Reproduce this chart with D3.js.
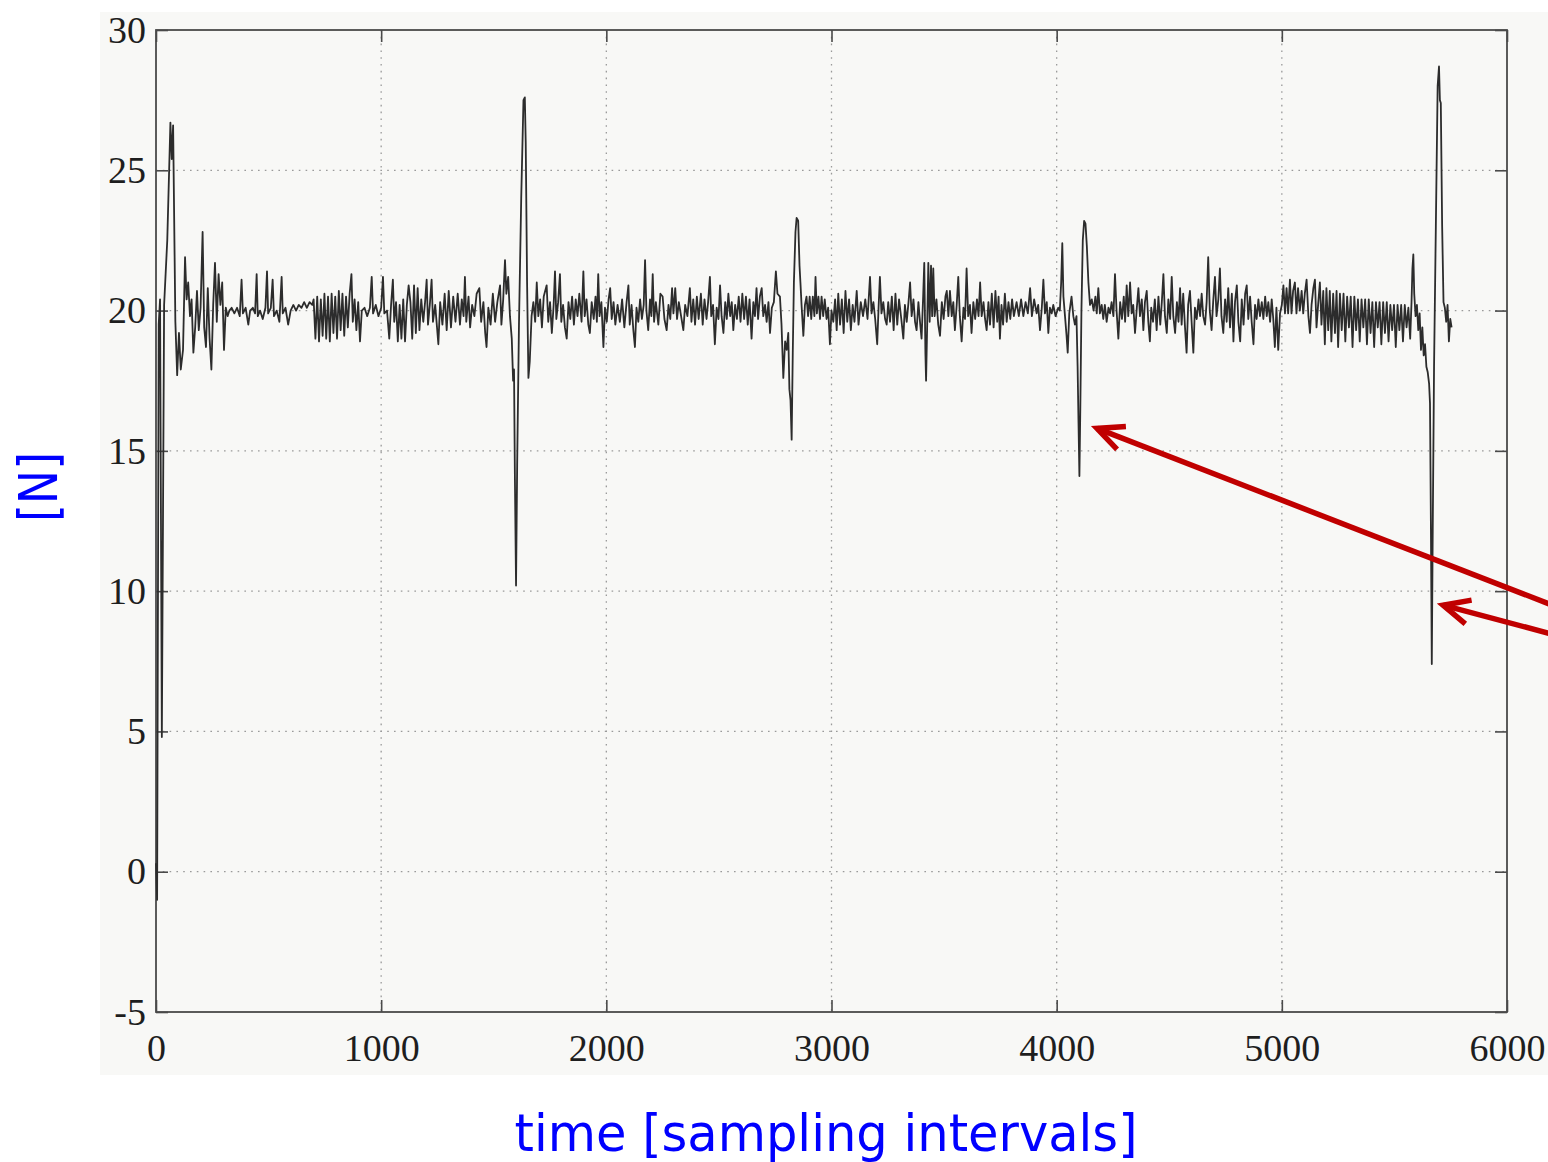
<!DOCTYPE html>
<html>
<head>
<meta charset="utf-8">
<script src="https://cdn.jsdelivr.net/npm/d3@7/dist/d3.min.js"></script>
<style>
  html, body { margin: 0; padding: 0; background: #ffffff; }
  svg { display: block; }
</style>
</head>
<body>
<div id="chart"></div>
<script>
/*****************************************************************************
 *  Force signal over time (sampling intervals)
 */

var X_TICKS = [0, 1000, 2000, 3000, 4000, 5000, 6000];
var Y_TICKS = [-5, 0, 5, 10, 15, 20, 25, 30];

// [sample, force N]
var startup = [[0,0.3],[5,-1.0],[12,19.5],[18,20.4],[26,4.8],[36,20.2],[50,22.5],[64,26.7],[70,25.4],[76,26.6],[86,19.6],[94,17.7],[102,19.2],[110,17.9],[120,18.6],[129,21.9],[136,20.4],[143,21.0],[151,19.8],[158,20.4],[166,18.5],[174,19.4],[182,20.7],[190,19.3],[198,20.1],[207,22.8],[214,19.4],[222,18.7],[230,20.8],[238,19.0],[246,17.9],[254,20.2],[262,21.7],[270,19.6],[278,21.3],[286,20.2],[294,21.0],[302,18.6],[310,20.1],[318,19.8],[326,20.0]];

var firstRun = [[336,20.1],[348,19.9],[360,20.1],[372,19.8],[380,21.1],[386,19.9],[398,20.1],[410,19.5],[418,20.0],[430,20.1],[440,19.9],[447,21.3],[452,19.8],[462,20.0],[474,19.7],[486,20.1],[493,21.4],[498,19.9],[510,20.1],[518,21.1],[524,19.8],[536,20.0],[548,19.6],[558,21.2],[563,19.9],[575,20.1],[587,19.5],[598,20.0],[610,20.2],[622,20.0],[634,20.2],[646,20.1],[658,20.3],[670,20.1],[682,20.3],[694,20.2],
  [700,20.4],[708,19.0],[716,20.5],[724,18.9],[732,20.4],[740,19.1],[748,20.6],[756,19.0],[764,20.5],[772,18.9],[780,20.6],[788,19.2],[796,20.5],[804,19.0],[812,20.7],[820,19.3],[828,20.6],[836,19.1],[844,20.5],[852,19.4],[860,20.6],[868,21.3],[874,19.6],[882,20.4],[890,19.3],[898,20.3],[906,18.9],[914,20.0],
  [926,20.1],[938,19.8],[950,20.1],[958,21.2],[964,19.9],[976,20.2],[988,19.8],[1000,20.1],[1008,21.2],[1014,19.9],[1026,20.0],[1036,19.0],[1044,20.2],[1052,21.1],[1058,19.6],
  [1066,20.3],[1074,18.9],[1082,20.2],[1090,19.0],[1098,20.4],[1106,18.9],[1114,20.2],[1122,20.9],[1130,20.3],[1138,19.0],[1146,20.9],[1154,19.2],[1162,20.8],[1170,19.3],[1178,20.4],
  [1187,19.6],[1195,20.3],[1202,21.1],[1208,19.5],[1216,20.2],[1224,21.1],[1230,19.6],[1240,20.2],[1248,19.4],[1254,18.8],[1262,20.3],[1272,19.5],[1282,20.6],[1291,19.3],[1300,20.7],[1310,19.4],[1320,20.5],[1330,19.6],[1340,20.6],[1350,19.5],[1358,20.4],[1366,19.8],[1372,21.2],[1378,19.6],[1388,20.5],[1395,19.4],[1404,20.2],[1414,19.8],[1424,20.6],[1436,20.8],[1444,19.6],[1454,20.3],[1462,19.2],[1468,18.7],[1476,20.1],[1486,19.5],[1496,20.6],[1506,19.6],[1516,20.3],[1528,20.9],[1534,19.5],[1542,20.4],[1550,21.8],[1556,20.6],[1564,21.2],[1572,19.8],[1580,19.0],[1586,17.5],[1590,17.9],[1594,14.0],[1599,10.2],[1604,14.5],[1612,19.5],[1622,24.0],[1632,27.5],[1638,27.6],[1642,26.0],[1648,21.0],[1654,17.6],[1660,18.2],[1668,19.8]];

var secondRun = [[1676,20.3],[1684,19.6],[1691,21.0],[1698,19.8],[1706,20.4],[1714,19.4],[1722,20.5],[1735,20.9],[1742,19.6],[1750,20.3],[1758,19.2],[1766,20.2],[1772,21.4],[1778,19.7],[1786,20.3],[1794,21.3],[1800,19.6],[1808,20.2],[1816,19.4],[1824,19.0],[1832,20.3],[1840,19.7],[1848,20.5],[1856,19.5],[1864,20.4],[1872,19.8],[1880,20.6],[1890,19.6],[1898,21.4],[1904,19.8],[1912,20.4],[1920,19.5],[1927,19.2],[1935,20.3],[1944,19.7],[1952,20.5],[1958,19.6],[1964,21.3],[1970,19.8],[1978,20.3],[1987,18.7],[1994,20.1],[2002,19.6],[2010,20.4],[2017,20.8],[2024,19.7],[2032,20.3],[2040,19.5],[2050,20.2],[2060,19.6],[2070,20.4],[2080,19.4],[2090,20.3],[2098,20.9],[2104,19.5],[2112,20.2],[2120,19.3],[2127,18.7],[2134,20.1],[2142,19.6],[2150,20.4],[2158,19.7],[2166,20.2],[2172,21.8],[2178,20.0],
  [2186,19.3],[2194,20.4],[2200,19.8],[2206,21.3],[2212,19.6],[2220,20.3],[2231,19.5],[2240,20.6],[2250,20.5],[2258,19.7],[2268,19.3],[2276,20.2],[2284,19.7],[2292,20.8],[2298,19.9],[2306,20.8],[2314,19.7],[2322,20.3],[2332,19.8],[2342,19.3],[2350,20.2],[2360,19.8],[2371,20.8],[2378,19.6],[2386,20.4],[2394,19.5],[2402,20.5],[2410,19.7],[2420,20.6],[2428,19.5],[2436,20.4],[2445,19.7],[2452,20.3],[2460,21.2],[2466,19.8],[2474,20.2],[2482,18.8],[2490,20.1],[2498,19.7],[2505,20.9],[2512,19.8],[2520,19.2],[2528,20.3],[2535,19.7],[2542,20.6],[2550,19.8],[2557,20.3],[2564,19.3],[2572,20.2],[2580,19.7],[2588,20.5],[2596,19.6],[2604,20.6],[2612,19.7],[2620,20.5],[2628,19.5],[2636,20.4],[2645,19.0],[2653,20.3],[2660,19.8],[2667,20.8],[2674,19.7],[2682,20.5],[2690,20.8],[2697,19.8],[2705,20.2],[2712,19.6],[2720,20.3],[2727,19.2],[2735,20.1],[2744,20.3],[2753,21.4],[2760,20.6],[2771,20.5],[2778,19.5],[2786,17.6],[2794,18.9],[2801,18.6],[2808,19.2],[2813,17.2],[2818,16.8],[2823,15.4],[2828,18.5],[2833,21.0],[2840,22.8],[2845,23.3],[2852,23.2],[2858,21.6],[2862,21.0],[2867,20.2],[2875,19.1],[2882,20.2]];

var thirdRun = [[2889,20.5],[2896,19.8],[2903,20.5],[2910,19.7],[2917,20.5],[2924,19.8],[2929,21.2],[2935,19.9],[2942,20.5],[2949,19.7],[2956,20.5],[2963,19.8],[2970,20.4],[2978,19.7],[2985,20.1],[2993,18.8],[3000,20.0],[3008,19.6],[3016,20.4],[3023,19.3],[3030,20.6],[3038,19.5],[3046,20.4],[3054,19.2],[3062,20.7],[3070,19.6],[3078,20.4],[3086,19.3],[3094,20.2],[3102,19.6],[3112,20.7],[3120,19.5],[3130,20.3],[3140,19.8],[3150,20.4],[3160,19.7],[3171,21.2],[3178,19.9],[3186,20.3],[3194,19.7],[3203,18.8],[3209,20.1],[3215,21.2],[3222,19.9],[3230,20.3],[3238,19.7],[3245,19.5],[3252,20.3],[3260,19.6],[3268,20.5],[3276,19.3],[3284,20.6],[3292,19.5],[3300,20.4],
  [3310,19.7],[3319,19.0],[3326,20.2],[3334,19.6],[3342,20.3],[3349,21.0],[3356,19.8],[3364,20.4],[3371,19.6],[3378,19.3],[3386,20.3],[3393,19.6],[3400,19.0],[3407,20.5],[3412,21.7],[3417,18.5],[3420,17.5],[3425,19.5],[3430,21.7],[3436,19.6],[3442,21.6],[3447,19.8],[3452,21.5],[3458,19.8],[3466,20.4],[3474,19.5],[3482,19.1],[3490,20.3],[3498,19.7],[3506,20.5],[3512,20.7],[3519,19.8],[3526,20.7],[3534,19.8],[3541,20.3],[3548,19.3],[3556,20.2],[3563,21.2],[3570,19.8],[3578,18.9],[3586,20.1],[3593,19.7],[3600,21.5],[3607,19.8],[3615,20.2],[3622,19.2],[3630,20.3],[3638,19.7],[3646,20.4],[3653,19.8],[3660,21.0],[3667,19.8],[3675,20.3],[3682,19.7],[3689,19.3],[3697,20.3],[3704,19.5],[3712,20.6],[3720,19.4],[3728,20.7],[3736,19.6],[3742,20.5],[3748,19.0],[3755,20.2],[3762,19.5],[3770,20.6],[3778,19.6],[3786,20.3],[3794,19.7],[3802,20.4],[3810,19.8],[3822,20.3],[3832,19.8],[3842,20.4],[3852,19.8],[3862,20.3],[3872,19.9],[3882,20.8],[3890,19.8],[3900,20.4],[3911,19.9],[3918,20.2],[3926,19.3],[3934,20.1],[3941,21.1],[3948,19.9],[3956,20.3],[3963,19.2],[3970,20.1],[3978,19.9],[3985,20.2],[3995,19.8],[4007,20.1],[4014,20.0],
  [4020,21.0],[4025,22.4],[4030,20.5],[4037,19.8],[4044,19.1],[4049,18.5],[4056,19.9],[4066,20.5],[4074,19.8],[4081,19.5],[4088,19.8],[4093,18.0],[4097,16.0],[4101,14.1],[4105,16.5],[4110,20.0],[4116,22.5],[4122,23.2],[4128,23.1],[4134,22.3],[4141,21.0],[4148,20.2]];

var fourthRun = [[4156,20.4],[4164,20.0],[4172,20.5],[4178,19.9],[4185,20.8],[4192,19.9],[4200,20.2],[4207,19.7],[4214,20.2],[4222,19.6],[4230,20.1],[4237,19.9],[4244,20.3],[4252,19.8],[4259,21.3],[4266,20.0],[4274,19.0],[4282,20.3],[4290,19.7],[4298,20.5],[4304,19.6],[4311,20.9],[4318,19.8],[4326,21.0],[4333,19.9],[4340,20.2],[4348,19.2],[4356,20.1],[4363,20.8],[4370,19.8],[4378,20.4],[4385,19.3],[4392,20.3],[4400,20.7],[4407,19.6],[4414,18.9],[4420,20.1],
  [4428,19.6],[4436,20.4],[4444,19.3],[4452,20.5],[4460,19.5],[4467,20.3],[4474,21.3],[4481,19.8],[4489,19.2],[4496,20.4],[4504,19.7],[4511,21.2],[4518,19.8],[4526,19.2],[4534,20.3],[4541,19.6],[4548,20.8],[4555,19.5],[4562,20.6],[4570,19.4],[4577,18.5],[4584,20.2],[4592,20.7],[4600,19.5],[4607,18.5],[4614,20.1],[4622,19.7],[4630,20.4],[4637,19.8],[4644,20.6],[4651,19.8],[4659,19.5],[4666,20.3],[4673,21.9],[4680,20.0],[4688,19.3],[4695,20.3],[4703,21.2],[4710,19.8],[4718,20.4],[4725,21.5],[4732,19.8],[4740,19.2],[4748,20.4],[4755,19.6],[4762,20.8],[4770,19.4],[4778,20.6],[4785,18.9],[4792,20.3],[4800,20.9],[4807,19.6],[4815,18.9],[4822,20.4],[4830,19.5],[4837,20.6],[4844,20.9],[4851,19.7],[4859,20.5],[4866,19.6],[4874,18.8],[4881,20.2],[4888,19.7],[4896,20.4],[4903,19.8],[4911,20.3],[4918,19.7],[4926,20.5],[4933,19.8],[4940,20.3],[4948,19.6],[4955,20.4],[4962,19.7],[4969,18.7],[4976,20.1],[4984,18.6],[4992,19.9],[5000,20.2],[5007,20.9],[5014,19.9],[5021,20.8],[5028,19.9],[5036,21.1],[5043,19.9],[5050,20.7],[5058,21.0],[5065,19.9],[5072,20.8],[5080,20.0],[5088,20.7],[5095,19.9],[5102,20.6],[5110,21.1],[5118,19.8],[5125,19.2],[5132,20.2],[5140,20.8],[5147,21.1],[5154,19.4],[5162,20.3],[5169,21.0],[5176,19.5],[5184,20.7],[5191,18.8],[5198,20.8],[5206,19.3],[5213,20.7],[5220,18.9],[5228,20.6],[5236,19.2],[5243,20.7],[5250,18.7],[5258,20.6],[5266,19.3],[5274,20.6],[5282,18.9],[5290,20.5],[5298,19.4],[5306,20.5],[5314,18.7],[5322,20.5],[5330,19.3],[5338,20.4],[5346,18.9],[5354,20.4],[5362,19.4],[5370,20.4],[5378,18.8],[5386,20.4],[5394,19.2],[5402,20.3],[5410,18.7],[5418,20.3],[5426,19.4],[5434,20.3],[5442,18.8],[5450,20.3],[5458,19.2],[5466,20.3],[5474,18.9],[5482,20.2],[5490,19.3],[5498,20.2],[5506,18.7],[5514,20.2],[5522,19.3],[5530,20.2],
  [5538,18.9],[5546,20.2],[5554,19.4],[5562,20.1],[5570,19.0],[5576,20.3],[5580,21.5],[5584,22.0],[5588,20.6],[5594,19.8],[5600,20.2],[5606,19.3],[5612,19.9],[5618,18.6],[5624,19.4],[5630,18.4],[5636,18.8],[5642,18.0],[5648,17.8],[5654,17.4],[5658,16.7],[5662,12.4],[5666,7.4],[5670,12.0],[5676,18.0],[5684,23.0],[5692,28.0],[5698,28.7],[5702,27.5],[5706,27.4],[5712,23.0],[5718,20.3],[5724,20.1],[5730,19.6],[5736,20.2],[5742,18.9],[5748,19.7],[5754,19.4]];

// annotation arrows: tips on the trace, shared tail off to the right (sample, N)
var ARROW_TIPS = [[4179, 15.8], [5716, 9.5]];
var ARROW_TAIL = [7261, 6.2];

var X_LABEL = "time [sampling intervals]";
var Y_LABEL = "[N]";

/*****************************************************************************
 *  Layout
 */
var CANVAS_WIDTH = 1548;
var CANVAS_HEIGHT = 1162;
var PLOT_LEFT = 156;
var PLOT_RIGHT = 1507;
var PLOT_TOP = 30;
var PLOT_BOTTOM = 1012;
var TICK_LENGTH = 12;
var AXIS_COLOR = "#4a4a4a";
var TRACE_COLOR = "#2c2c2c";
var ARROW_COLOR = "#c00000";
var LABEL_BLUE = "#0000ff";
var TICK_FONT = "'Liberation Serif', 'Times New Roman', serif";
var LABEL_FONT = "'DejaVu Sans', Verdana, sans-serif";

var forceSamples = startup.concat(firstRun, secondRun, thirdRun, fourthRun);

var xScale = d3.scaleLinear().domain([0, 6000]).range([PLOT_LEFT, PLOT_RIGHT]);
var yScale = d3.scaleLinear().domain([-5, 30]).range([PLOT_BOTTOM, PLOT_TOP]);

// plain hyphen for negatives, like the scanned figure
var tickText = d => String(d);

var svg = d3.select("#chart").append("svg")
    .attr("width", CANVAS_WIDTH)
    .attr("height", CANVAS_HEIGHT);

svg.append("rect")
    .attr("width", CANVAS_WIDTH)
    .attr("height", CANVAS_HEIGHT)
    .attr("fill", "#ffffff");

// scanned page background
svg.append("rect")
    .attr("x", 100)
    .attr("y", 12)
    .attr("width", CANVAS_WIDTH - 100)
    .attr("height", 1063)
    .attr("fill", "#f8f8f6");

// Render dotted gridlines
svg.selectAll(".grid-x")
    .data(X_TICKS.slice(1, X_TICKS.length - 1))
    .enter()
    .append("line")
    .attr("class", "grid-x")
    .attr("x1", d => xScale(d)).attr("x2", d => xScale(d))
    .attr("y1", PLOT_TOP).attr("y2", PLOT_BOTTOM)
    .attr("stroke", "#9a9a9a")
    .attr("stroke-width", 1.3)
    .attr("stroke-dasharray", "1.6,5.2");

svg.selectAll(".grid-y")
    .data(Y_TICKS.slice(1, Y_TICKS.length - 1))
    .enter()
    .append("line")
    .attr("class", "grid-y")
    .attr("x1", PLOT_LEFT).attr("x2", PLOT_RIGHT)
    .attr("y1", d => yScale(d)).attr("y2", d => yScale(d))
    .attr("stroke", "#9a9a9a")
    .attr("stroke-width", 1.3)
    .attr("stroke-dasharray", "1.6,5.2");

// Render axes (ticks pointing inward on all four sides)
var bottomAxis = d3.axisBottom(xScale).tickValues(X_TICKS).tickSize(-TICK_LENGTH).tickPadding(22).tickFormat(tickText);
var topAxis = d3.axisTop(xScale).tickValues(X_TICKS).tickSize(-TICK_LENGTH).tickFormat("");
var leftAxis = d3.axisLeft(yScale).tickValues(Y_TICKS).tickSize(-TICK_LENGTH).tickPadding(10).tickFormat(tickText);
var rightAxis = d3.axisRight(yScale).tickValues(Y_TICKS).tickSize(-TICK_LENGTH).tickFormat("");

function styleAxis(g) {
    g.select(".domain").remove();
    g.selectAll(".tick line").attr("stroke", AXIS_COLOR).attr("stroke-width", 1.6);
    g.selectAll(".tick text")
        .attr("fill", "#1e1e1e")
        .style("font-family", TICK_FONT)
        .style("font-size", "38px");
}

svg.append("g").attr("transform", "translate(0," + PLOT_BOTTOM + ")").call(bottomAxis).call(styleAxis);
svg.append("g").attr("transform", "translate(0," + PLOT_TOP + ")").call(topAxis).call(styleAxis);
svg.append("g").attr("transform", "translate(" + PLOT_LEFT + ",0)").call(leftAxis).call(styleAxis);
svg.append("g").attr("transform", "translate(" + PLOT_RIGHT + ",0)").call(rightAxis).call(styleAxis);

svg.append("rect")
    .attr("x", PLOT_LEFT)
    .attr("y", PLOT_TOP)
    .attr("width", PLOT_RIGHT - PLOT_LEFT)
    .attr("height", PLOT_BOTTOM - PLOT_TOP)
    .attr("fill", "none")
    .attr("stroke", AXIS_COLOR)
    .attr("stroke-width", 1.8);

// Render force trace
var lineGenerator = d3.line()
    .x(d => xScale(d[0]))
    .y(d => yScale(d[1]));

svg.append("path")
    .datum(forceSamples)
    .attr("d", lineGenerator)
    .attr("fill", "none")
    .attr("stroke", TRACE_COLOR)
    .attr("stroke-width", 1.8)
    .attr("stroke-linejoin", "round");

// Render annotation arrows
var HEAD_LENGTH = 29;
var HEAD_ANGLE = 25 * Math.PI / 180;
var tailX = xScale(ARROW_TAIL[0]);
var tailY = yScale(ARROW_TAIL[1]);

ARROW_TIPS.forEach(function (tip) {
    var tx = xScale(tip[0]);
    var ty = yScale(tip[1]);
    var back = Math.atan2(tailY - ty, tailX - tx);
    svg.append("line")
        .attr("x1", tailX).attr("y1", tailY)
        .attr("x2", tx).attr("y2", ty)
        .attr("stroke", ARROW_COLOR)
        .attr("stroke-width", 5.5);
    var b1 = [tx + HEAD_LENGTH * Math.cos(back - HEAD_ANGLE), ty + HEAD_LENGTH * Math.sin(back - HEAD_ANGLE)];
    var b2 = [tx + HEAD_LENGTH * Math.cos(back + HEAD_ANGLE), ty + HEAD_LENGTH * Math.sin(back + HEAD_ANGLE)];
    svg.append("path")
        .attr("d", d3.line()([b1, [tx, ty], b2]))
        .attr("fill", "none")
        .attr("stroke", ARROW_COLOR)
        .attr("stroke-width", 5.5)
        .attr("stroke-linejoin", "miter");
});

// Render axis titles
svg.append("text")
    .attr("x", 826)
    .attr("y", 1151)
    .attr("text-anchor", "middle")
    .attr("textLength", 623)
    .attr("lengthAdjust", "spacingAndGlyphs")
    .style("font-family", LABEL_FONT)
    .style("font-size", "52px")
    .style("fill", LABEL_BLUE)
    .text(X_LABEL);

svg.append("text")
    .attr("transform", "translate(57,487) rotate(-90)")
    .attr("text-anchor", "middle")
    .attr("textLength", 70)
    .attr("lengthAdjust", "spacingAndGlyphs")
    .style("font-family", LABEL_FONT)
    .style("font-size", "54px")
    .style("fill", LABEL_BLUE)
    .text(Y_LABEL);
</script>
</body>
</html>
